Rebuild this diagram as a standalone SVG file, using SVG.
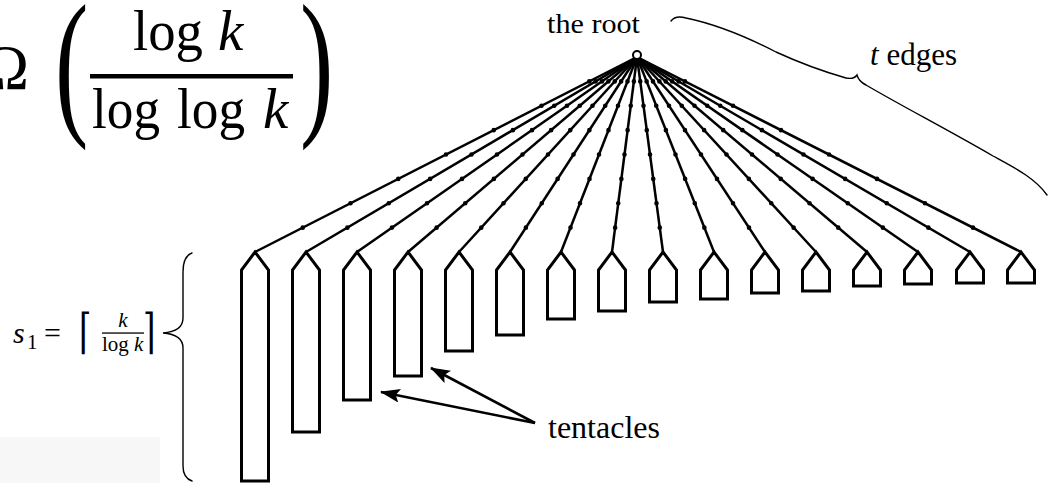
<svg xmlns="http://www.w3.org/2000/svg" xmlns:xlink="http://www.w3.org/1999/xlink" width="1049" height="483" viewBox="0 0 1049 483">
  <style>
    .serif { font-family: "Liberation Serif", "DejaVu Serif", serif; fill: #000; }
    .it { font-style: italic; }
    .tent { fill: #fff; stroke: #000; stroke-width: 3; stroke-linejoin: miter; }
    .edge-line { fill: none; stroke: #000; stroke-width: 2.5; }
    .edge-dots { fill: none; stroke: #000; stroke-width: 4.6; stroke-linecap: round; stroke-dasharray: 0 1; }
    .brace { fill: none; stroke: #000; stroke-width: 1.4; stroke-linecap: round; }
    .ptr { fill: none; stroke: #000; stroke-width: 2.6; }
  </style>
  <defs>
    <marker id="head" markerUnits="userSpaceOnUse" markerWidth="20" markerHeight="14" viewBox="0 0 20 14" refX="19" refY="7" orient="auto">
      <path d="M0,0 L20,7 L0,14 L4,7 Z" fill="#000"/>
    </marker>
    <!-- tree edges from the root to every tentacle tip; pathLength 8 splits each into 8 steps -->
    <g id="edge-set">
      <path d="M637,57 L255,252" pathLength="8"/>
      <path d="M637,57 L306,252" pathLength="8"/>
      <path d="M637,57 L357,252" pathLength="8"/>
      <path d="M637,57 L408,252" pathLength="8"/>
      <path d="M637,57 L459,252" pathLength="8"/>
      <path d="M637,57 L510,252" pathLength="8"/>
      <path d="M637,57 L561,252" pathLength="8"/>
      <path d="M637,57 L612,252" pathLength="8"/>
      <path d="M637,57 L663,252" pathLength="8"/>
      <path d="M637,57 L714,252" pathLength="8"/>
      <path d="M637,57 L765,252" pathLength="8"/>
      <path d="M637,57 L816,252" pathLength="8"/>
      <path d="M637,57 L867,252" pathLength="8"/>
      <path d="M637,57 L918,252" pathLength="8"/>
      <path d="M637,57 L970,252" pathLength="8"/>
      <path d="M637,57 L1021,252" pathLength="8"/>
    </g>
  </defs>

  <rect width="1049" height="483" fill="#fff"/>
  <rect x="0" y="437" width="160" height="46" fill="#f7f7f7"/>

  <!-- lower bound formula -->
  <g id="bound-formula" class="serif">
    <text x="29" y="89" font-size="64" text-anchor="end">Ω</text>
    <text transform="translate(55,116) scale(1,1.6)" font-size="100">(</text>
    <text x="133" y="50" font-size="57" textLength="70" lengthAdjust="spacingAndGlyphs">log</text>
    <text x="218" y="50" font-size="57" class="it">k</text>
    <rect x="90" y="74" width="203" height="4.5" fill="#000"/>
    <text x="92" y="128" font-size="57" textLength="68" lengthAdjust="spacingAndGlyphs">log</text>
    <text x="177" y="128" font-size="57" textLength="68" lengthAdjust="spacingAndGlyphs">log</text>
    <text x="263" y="128" font-size="57" class="it">k</text>
    <text transform="translate(300,116) scale(1,1.6)" font-size="100">)</text>
  </g>

  <!-- tree edges -->
  <g id="connectors">
    <use xlink:href="#edge-set" class="edge-line"/>
    <use xlink:href="#edge-set" class="edge-dots"/>
  </g>

  <g id="root">
    <circle cx="637" cy="55" r="4" fill="#fff" stroke="#000" stroke-width="2"/>
    <text class="serif" x="547" y="33" font-size="27" textLength="93" lengthAdjust="spacingAndGlyphs">the root</text>
  </g>

  <!-- tentacles: pointed tip at y=252, shoulders at y=270 -->
  <g id="tentacles">
    <path id="t1" class="tent" d="M241.5,481 V270 L255,252 L268.5,270 V481 Z"/>
    <path id="t2" class="tent" d="M292.5,432 V270 L306,252 L319.5,270 V432 Z"/>
    <path id="t3" class="tent" d="M343.5,400 V270 L357,252 L370.5,270 V400 Z"/>
    <path id="t4" class="tent" d="M394.5,376 V270 L408,252 L421.5,270 V376 Z"/>
    <path id="t5" class="tent" d="M445.5,351 V270 L459,252 L472.5,270 V351 Z"/>
    <path id="t6" class="tent" d="M496.5,335 V270 L510,252 L523.5,270 V335 Z"/>
    <path id="t7" class="tent" d="M547.5,319 V270 L561,252 L574.5,270 V319 Z"/>
    <path id="t8" class="tent" d="M598.5,311 V270 L612,252 L625.5,270 V311 Z"/>
    <path id="t9" class="tent" d="M649.5,302 V270 L663,252 L676.5,270 V302 Z"/>
    <path id="t10" class="tent" d="M700.5,299 V270 L714,252 L727.5,270 V299 Z"/>
    <path id="t11" class="tent" d="M751.5,293 V270 L765,252 L778.5,270 V293 Z"/>
    <path id="t12" class="tent" d="M802.5,291 V270 L816,252 L829.5,270 V291 Z"/>
    <path id="t13" class="tent" d="M853.5,286 V270 L867,252 L880.5,270 V286 Z"/>
    <path id="t14" class="tent" d="M904.5,284 V270 L918,252 L931.5,270 V284 Z"/>
    <path id="t15" class="tent" d="M956.5,283 V270 L970,252 L983.5,270 V283 Z"/>
    <path id="t16" class="tent" d="M1007.5,283 V270 L1021,252 L1034.5,270 V283 Z"/>
  </g>

  <!-- brace over the edges -->
  <g id="edges-label">
    <path class="brace" d="M671,21 C674,17 679,16 686,18 C715,24 745,36 776,52 C800,63 825,72 846,78 C851,79 855,78 857,75 C858,79 860,82 866,85 C900,105 950,131 993,156 C1015,168 1035,178 1047,195"/>
    <text class="serif" x="870" y="65" font-size="31"><tspan class="it">t</tspan> edges</text>
  </g>

  <!-- brace beside the longest tentacle -->
  <g id="size-label">
    <path class="brace" d="M192,253 C186,255 183,261 183,272 L183,318 C183,327 176,332 163,333 C176,334 183,339 183,348 L183,466 C183,474 186,479 192,481"/>
    <g class="serif">
      <text x="13" y="343" font-size="30" class="it">s</text>
      <text x="27" y="349" font-size="21">1</text>
      <text x="44" y="343" font-size="30">=</text>
      <text transform="translate(79,348) scale(1,1.5)" font-size="32" font-family="DejaVu Serif, serif">⌈</text>
      <text x="123" y="327" font-size="21" class="it" text-anchor="middle">k</text>
      <rect x="102" y="332.4" width="42" height="1.3" fill="#000"/>
      <text x="102" y="351" font-size="21">log <tspan class="it">k</tspan></text>
      <text transform="translate(143,348) scale(1,1.5)" font-size="32" font-family="DejaVu Serif, serif">⌉</text>
    </g>
  </g>

  <!-- pointers to two tentacles -->
  <g id="tentacles-label">
    <path class="ptr" d="M535,423 L381,392" marker-end="url(#head)"/>
    <path class="ptr" d="M535,423 L431,368" marker-end="url(#head)"/>
    <text class="serif" x="548" y="438" font-size="31" textLength="112" lengthAdjust="spacingAndGlyphs">tentacles</text>
  </g>
</svg>
